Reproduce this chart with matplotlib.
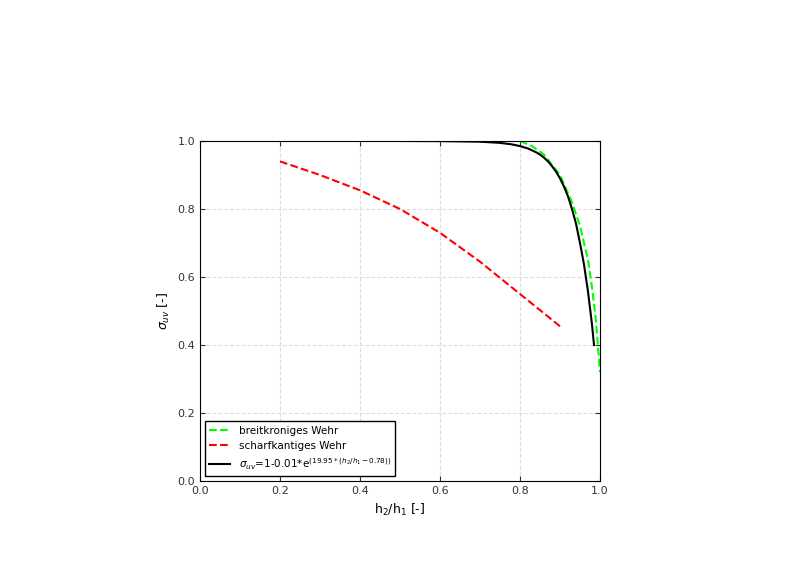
import matplotlib
matplotlib.use("Agg")
import matplotlib.pyplot as plt

green_x = [0.8, 0.83, 0.86, 0.9, 0.93, 0.95, 0.97, 0.98, 0.99, 1.0]
green_y = [1.0, 0.985, 0.96, 0.9, 0.82, 0.75, 0.65, 0.57, 0.47, 0.32]
red_x = [0.2, 0.3, 0.4, 0.5, 0.6, 0.7, 0.8, 0.9]
red_y = [0.94, 0.90, 0.855, 0.80, 0.73, 0.645, 0.55, 0.455]
black_x = [0.5, 0.6, 0.7, 0.75, 0.78, 0.8, 0.82, 0.84, 0.85, 0.86, 0.87, 0.88, 0.89, 0.9,
           0.91, 0.92, 0.93, 0.94, 0.95, 0.96, 0.97, 0.98, 0.985]
black_y = [1.0, 0.9997, 0.998, 0.9945, 0.99, 0.985, 0.978, 0.967, 0.96, 0.951, 0.94, 0.926,
           0.91, 0.89, 0.866, 0.837, 0.80, 0.757, 0.70, 0.637, 0.557, 0.46, 0.40]

fig = plt.figure(figsize=(8, 5.67), dpi=100)
ax = fig.add_axes([200/800, 1-481/567, 400/800, 340/567])
ax.plot(green_x, green_y, '--', color='#00ff00', lw=1.5, label='breitkroniges Wehr')
ax.plot(red_x, red_y, '--', color='#ff0000', lw=1.5, label='scharfkantiges Wehr')
ax.plot(black_x, black_y, '-', color='black', lw=1.5,
        label=r'$\sigma_{uv}$=1-0.01*e$^{(19.95*(h_2/h_1-0.78))}$')
ax.set_xlim(0, 1); ax.set_ylim(0, 1)
ax.set_xticks([0, 0.2, 0.4, 0.6, 0.8, 1.0])
ax.set_yticks([0, 0.2, 0.4, 0.6, 0.8, 1.0])
ax.xaxis.set_major_formatter(matplotlib.ticker.FormatStrFormatter('%.1f'))
ax.yaxis.set_major_formatter(matplotlib.ticker.FormatStrFormatter('%.1f'))
ax.grid(True, ls='--', color='#dddddd', lw=0.8)
ax.tick_params(labelsize=8, direction='in', top=True, right=True, colors='#333333')
ax.set_xlabel(r'h$_2$/h$_1$ [-]', fontsize=9)
ax.set_ylabel(r'$\sigma_{uv}$ [-]', fontsize=9)
ax.legend(loc='lower left', fontsize=7.5, fancybox=False, edgecolor='black', framealpha=1)
fig.savefig('out.png', dpi=100)
